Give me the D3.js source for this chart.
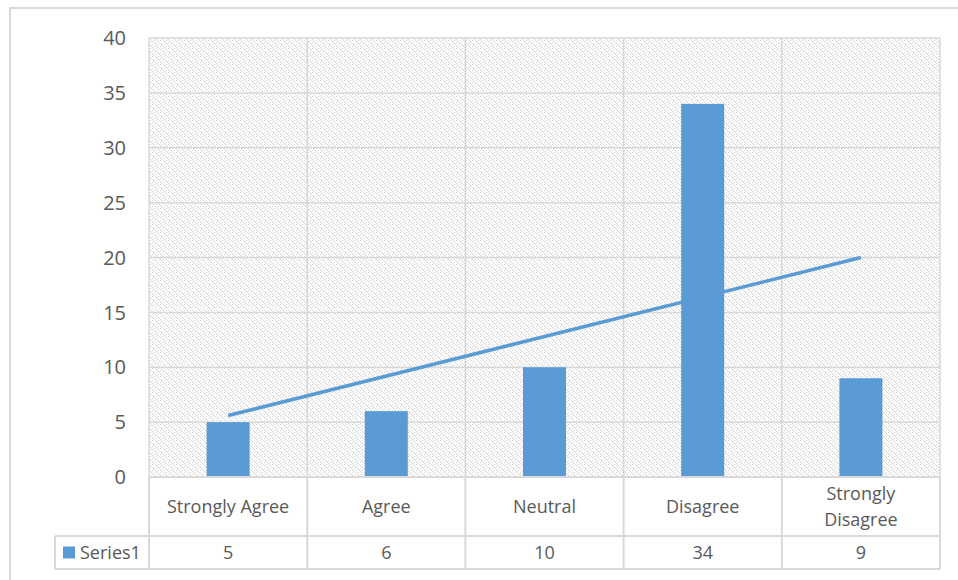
<!DOCTYPE html>
<html>
<head>
<meta charset="utf-8">
<script src="https://cdn.jsdelivr.net/npm/d3@7"></script>
<style>
  body { margin: 0; background: #fff; }
  svg text { font-family: "Open Sans", Lato, sans-serif; fill: #595959; }
</style>
</head>
<body>
<svg id="chart" width="958" height="580"></svg>
<script>
// data
var categories = ["Strongly Agree", "Agree", "Neutral", "Disagree", "Strongly Disagree"];
var values = [5, 6, 10, 34, 9];
var yTicks = [0, 5, 10, 15, 20, 25, 30, 35, 40];
var seriesName = "Series1";

var margin = {top: 38, left: 149, right: 18, bottom: 103};
var width = 958 - margin.left - margin.right,
    height = 580 - margin.top - margin.bottom;
var gridColor = "#d9d9d9", barColor = "#5b9bd5";

var svg = d3.select("#chart");

// outer chart border
svg.append("rect")
    .attr("x", 10).attr("y", 8)
    .attr("width", 960).attr("height", 600)
    .attr("fill", "#fff")
    .attr("stroke", gridColor).attr("stroke-width", 2);

// dotted diagonal pattern for plot area
var defs = svg.append("defs");
var pat = defs.append("pattern")
    .attr("id", "hatch")
    .attr("patternUnits", "userSpaceOnUse")
    .attr("width", 6).attr("height", 6);
pat.append("rect").attr("width", 6).attr("height", 6).attr("fill", "#fff");
var dots = [[0,0],[1,1],[2,2],[3,3],[4,4],[5,5],[3,0],[5,2],[1,4]];
pat.selectAll("rect.dot")
    .data(dots)
    .enter().append("rect")
    .attr("class", "dot")
    .attr("x", function(d) { return d[0]; }).attr("y", function(d) { return d[1]; })
    .attr("width", 1).attr("height", 1)
    .attr("fill", "#d4d4d4");

var x = d3.scaleBand().domain(categories).range([0, width]);
var y = d3.scaleLinear().domain([0, 40]).range([height, 0]);

var g = svg.append("g").attr("transform", "translate(" + margin.left + "," + margin.top + ")");

g.append("rect")
    .attr("width", width).attr("height", height)
    .attr("fill", "url(#hatch)");

// horizontal gridlines
g.selectAll(".hgrid")
    .data(yTicks)
    .enter().append("line")
    .attr("class", "hgrid")
    .attr("x1", 0).attr("x2", width)
    .attr("y1", function(d) { return y(d); })
    .attr("y2", function(d) { return y(d); })
    .attr("stroke", gridColor).attr("stroke-width", 1.5);

// vertical gridlines (category boundaries)
var bounds = categories.map(function(c) { return x(c); }).concat([width]);
g.selectAll(".vgrid")
    .data(bounds)
    .enter().append("line")
    .attr("class", "vgrid")
    .attr("x1", function(d) { return d; }).attr("x2", function(d) { return d; })
    .attr("y1", 0).attr("y2", height)
    .attr("stroke", gridColor).attr("stroke-width", 1.5);

// y axis labels
g.selectAll(".ylab")
    .data(yTicks)
    .enter().append("text")
    .attr("class", "ylab")
    .attr("x", -23)
    .attr("y", function(d) { return y(d); })
    .attr("dy", "0.36em")
    .attr("text-anchor", "end")
    .style("font-size", "20px")
    .text(function(d) { return d; });

// bars
var barW = 43;
g.selectAll(".bar")
    .data(values)
    .enter().append("rect")
    .attr("class", "bar")
    .attr("x", function(d, i) { return x(categories[i]) + x.bandwidth() / 2 - barW / 2; })
    .attr("y", function(d) { return y(d); })
    .attr("width", barW)
    .attr("height", function(d) { return height - y(d); })
    .attr("fill", barColor);

// linear trendline (least squares over category index)
var n = values.length;
var mx = d3.mean(values, function(d, i) { return i; }), my = d3.mean(values);
var sxy = d3.sum(values, function(d, i) { return (i - mx) * (d - my); });
var sxx = d3.sum(values, function(d, i) { return (i - mx) * (i - mx); });
var slope = sxy / sxx, icpt = my - slope * mx;
g.append("line")
    .attr("x1", x(categories[0]) + x.bandwidth() / 2)
    .attr("y1", y(icpt))
    .attr("x2", x(categories[n - 1]) + x.bandwidth() / 2)
    .attr("y2", y(icpt + slope * (n - 1)))
    .attr("stroke", barColor).attr("stroke-width", 3.5)
    .attr("stroke-linecap", "butt");

// data table
var row1Top = height, row1Bot = height + 59, row2Bot = height + 92;
var legendLeft = 55 - margin.left;
var tg = g.append("g");
// horizontal lines
tg.append("line").attr("x1", 0).attr("x2", width).attr("y1", row1Top).attr("y2", row1Top)
    .attr("stroke", gridColor).attr("stroke-width", 2);
tg.append("line").attr("x1", legendLeft).attr("x2", width).attr("y1", row1Bot).attr("y2", row1Bot)
    .attr("stroke", gridColor).attr("stroke-width", 2);
tg.append("line").attr("x1", legendLeft).attr("x2", width).attr("y1", row2Bot).attr("y2", row2Bot)
    .attr("stroke", gridColor).attr("stroke-width", 2);
// vertical lines
tg.selectAll(".tv")
    .data(bounds)
    .enter().append("line")
    .attr("x1", function(d) { return d; }).attr("x2", function(d) { return d; })
    .attr("y1", row1Top).attr("y2", row2Bot)
    .attr("stroke", gridColor).attr("stroke-width", 2);
tg.append("line").attr("x1", legendLeft).attr("x2", legendLeft)
    .attr("y1", row1Bot).attr("y2", row2Bot)
    .attr("stroke", gridColor).attr("stroke-width", 2);

// category labels
tg.selectAll(".catlab")
    .data(categories)
    .enter().append("text")
    .attr("text-anchor", "middle")
    .style("font-size", "18px")
    .each(function(d) {
        var t = d3.select(this);
        var cx = x(d) + x.bandwidth() / 2;
        var words = (d == "Strongly Disagree") ? ["Strongly", "Disagree"] : [d];
        var cy = (row1Top + row1Bot) / 2 - (words.length - 1) * 13;
        words.forEach(function(w, i) {
            t.append("tspan").attr("x", cx).attr("y", cy + i * 26).attr("dy", "0.35em").text(w);
        });
    });

// values row
tg.selectAll(".vallab")
    .data(values)
    .enter().append("text")
    .attr("x", function(d, i) { return x(categories[i]) + x.bandwidth() / 2; })
    .attr("y", (row1Bot + row2Bot) / 2)
    .attr("dy", "0.35em")
    .attr("text-anchor", "middle")
    .style("font-size", "18px")
    .text(function(d) { return d; });

// legend key
tg.append("rect")
    .attr("x", legendLeft + 8).attr("y", (row1Bot + row2Bot) / 2 - 6)
    .attr("width", 12).attr("height", 12)
    .attr("fill", barColor);
tg.append("text")
    .attr("x", legendLeft + 25).attr("y", (row1Bot + row2Bot) / 2)
    .attr("dy", "0.35em")
    .style("font-size", "18px")
    .text(seriesName);
</script>
</body>
</html>
